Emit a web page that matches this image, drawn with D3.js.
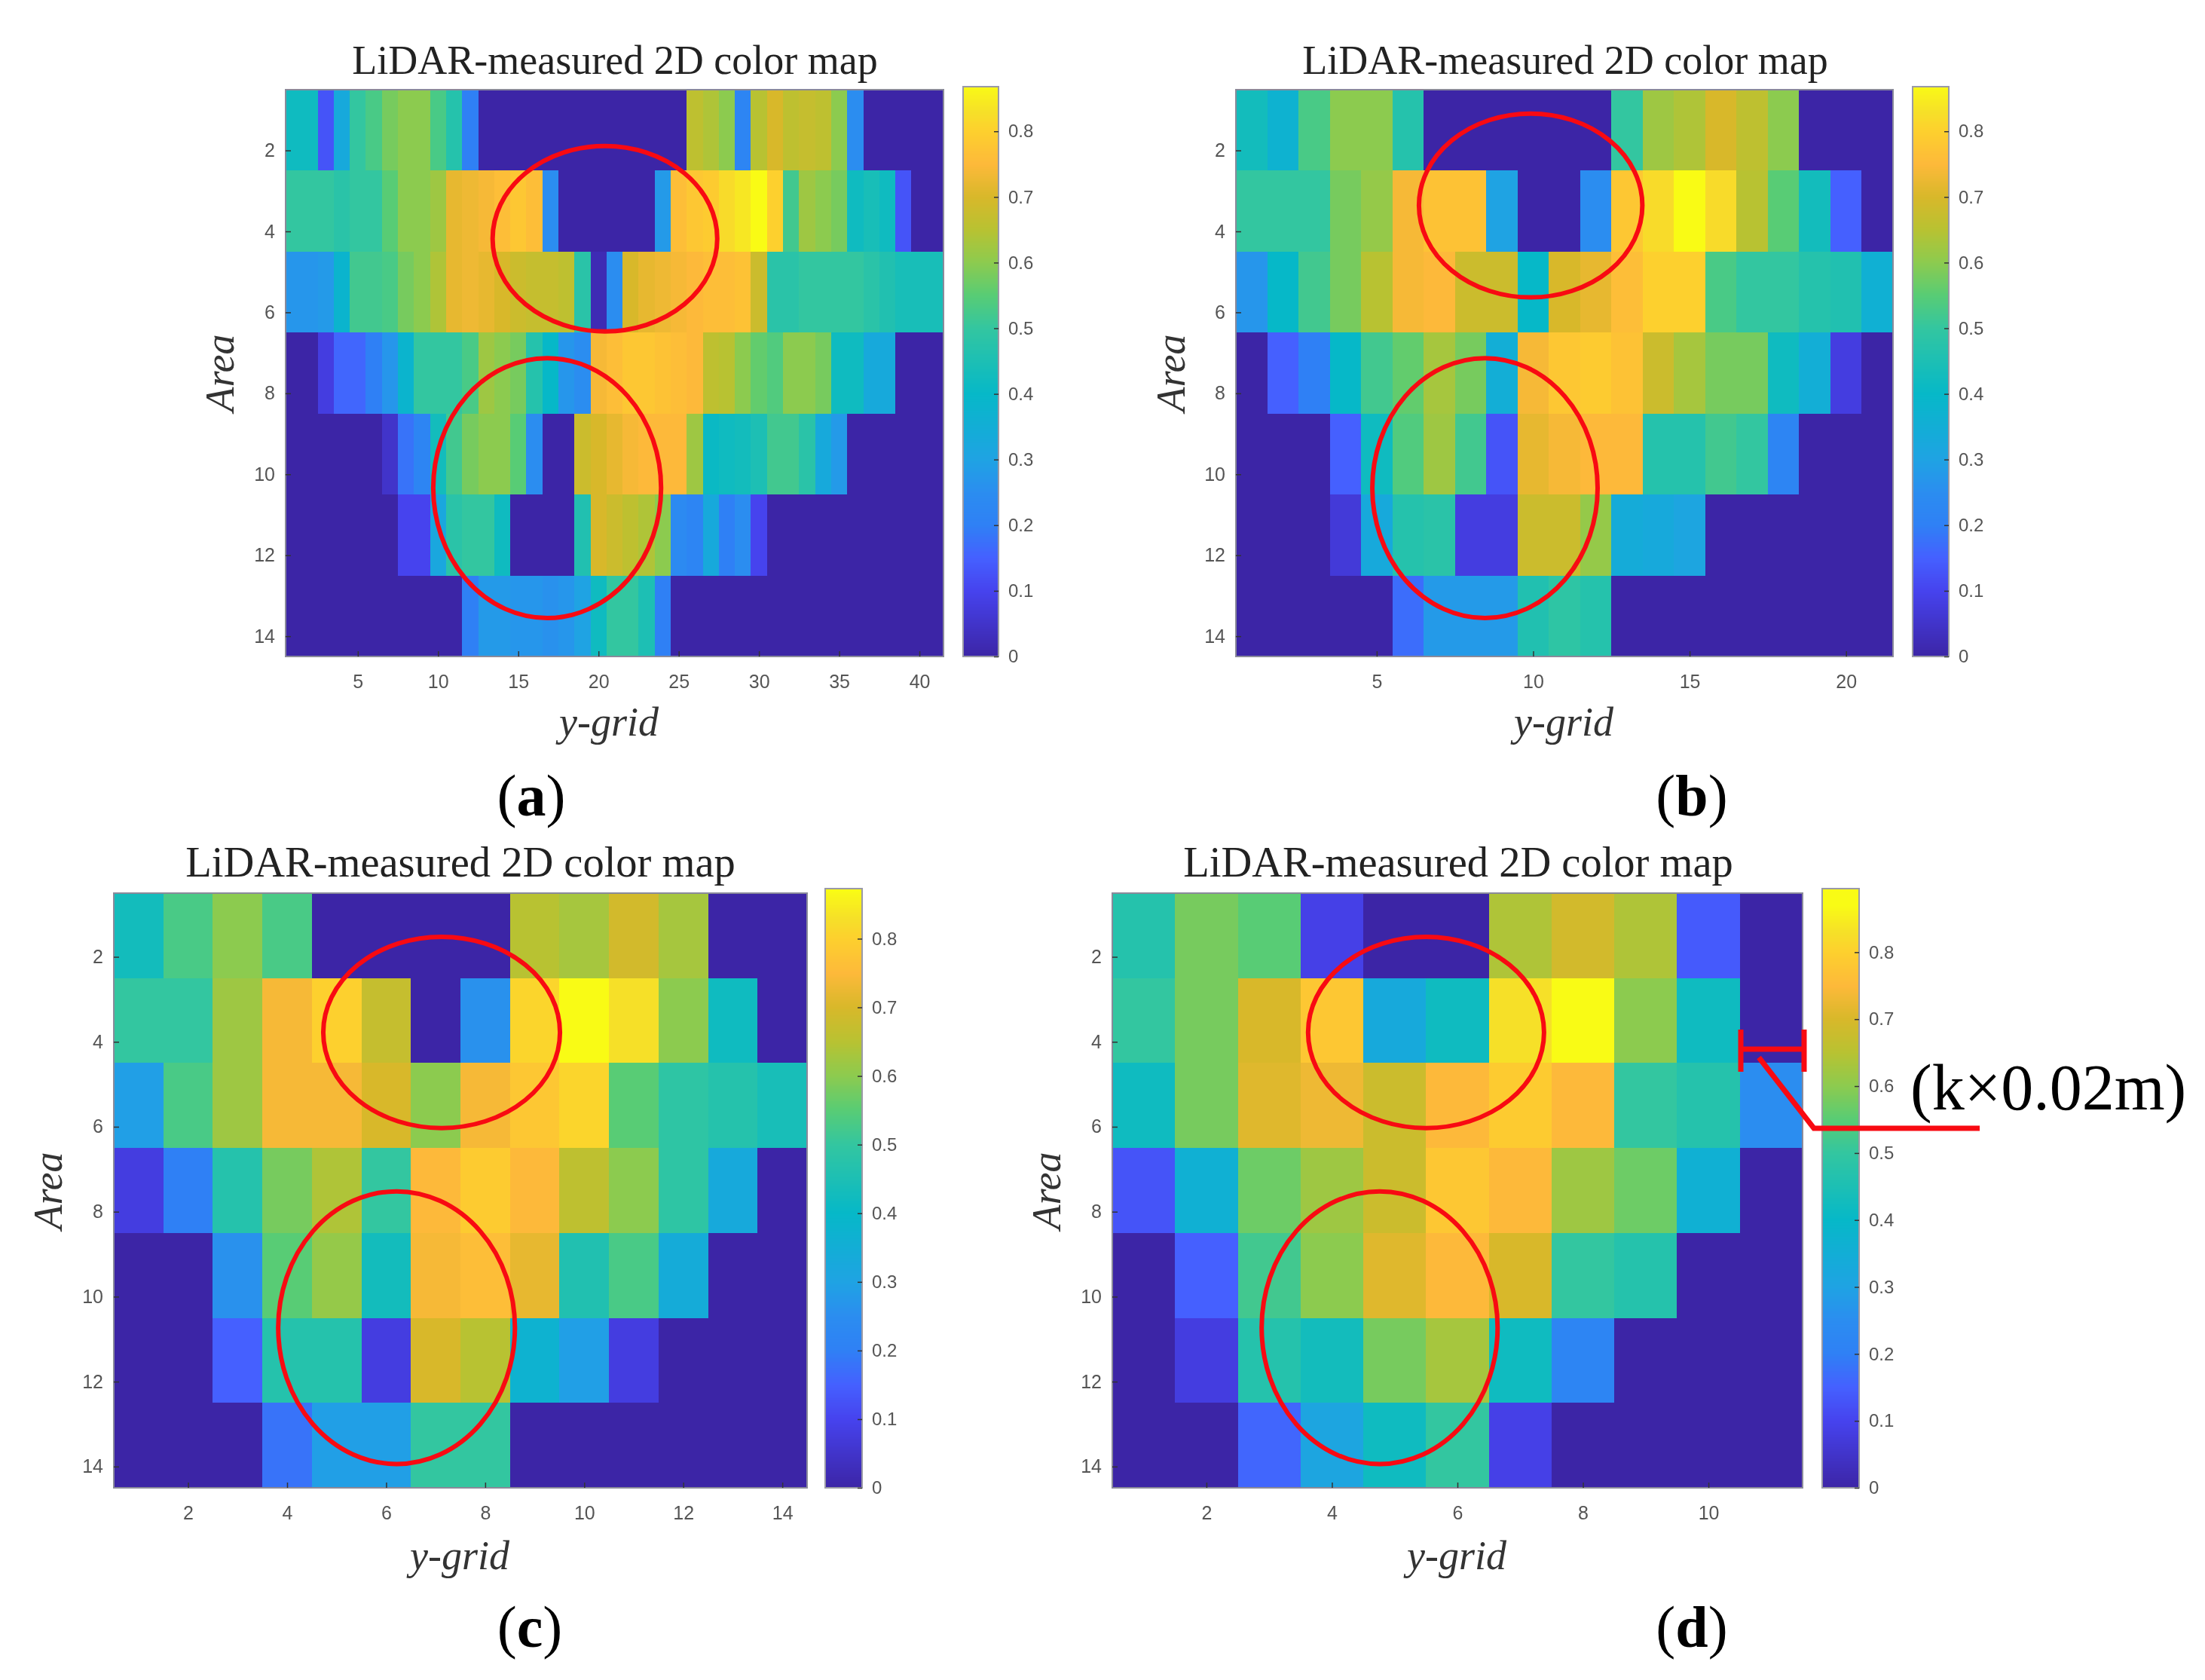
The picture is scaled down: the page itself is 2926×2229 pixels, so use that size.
<!DOCTYPE html>
<html>
<head>
<meta charset="utf-8">
<script src="https://cdn.jsdelivr.net/npm/d3@7"></script>
<style>
  body { margin: 0; background: #fff; }
  svg { display: block; filter: blur(0.7px); }
  .tick text { font-family: "Liberation Sans", sans-serif; fill: #555; }
  .tick line { stroke: #333; stroke-width: 1.5; }
  rect { shape-rendering: crispEdges; }
</style>
</head>
<body>
<svg id="fig" width="2926" height="2229"></svg>
<script>

// values, one row per 2-area band
var mapA = [
  [.42,.42,.13,.33,.5,.53,.58,.6,.6,.53,.47,.2,0,0,0,0,0,0,0,0,0,0,0,0,0,.66,.64,.6,.22,.65,.7,.66,.67,.66,.6,.25,0,0,0,0,0],
  [.5,.5,.5,.48,.5,.5,.55,.6,.6,.62,.72,.73,.74,.76,.78,.76,.25,0,0,0,0,0,0,.28,.76,.78,.79,.82,.84,.87,.8,.52,.62,.6,.58,.42,.44,.42,.13,0,0],
  [.27,.27,.28,.38,.52,.52,.53,.58,.6,.64,.72,.73,.72,.7,.68,.67,.67,.66,.48,.02,.25,.7,.72,.73,.74,.75,.76,.76,.77,.68,.48,.48,.5,.5,.5,.5,.48,.46,.44,.44,.44],
  [0,0,.08,.16,.16,.2,.27,.38,.5,.5,.5,.53,.62,.6,.58,.47,.4,.27,.25,.74,.76,.78,.78,.77,.76,.75,.66,.65,.6,.56,.54,.6,.6,.58,.42,.42,.33,.33,0,0,0],
  [0,0,0,0,0,0,.05,.18,.22,.43,.52,.58,.6,.6,.55,.25,0,0,.68,.7,.72,.74,.75,.75,.75,.62,.41,.42,.43,.45,.52,.52,.48,.33,.28,0,0,0,0,0,0],
  [0,0,0,0,0,0,0,.1,.1,.32,.48,.5,.5,.42,0,0,0,0,.46,.7,.68,.66,.64,.6,.24,.22,.33,.2,.25,.1,0,0,0,0,0,0,0,0,0,0,0],
  [0,0,0,0,0,0,0,0,0,0,0,.2,.28,.28,.27,.27,.26,.27,.3,.42,.5,.5,.45,.2,0,0,0,0,0,0,0,0,0,0,0,0,0,0,0,0,0]
];
var mapB = [
  [.43,.37,.53,.6,.6,.47,0,0,0,0,0,0,.5,.62,.64,.7,.66,.6,0,0,0],
  [.5,.5,.5,.58,.61,.74,.77,.77,.3,0,0,.25,.78,.82,.87,.82,.65,.55,.43,.15,0],
  [.27,.4,.52,.58,.65,.74,.75,.68,.68,.4,.7,.72,.76,.8,.8,.53,.5,.5,.47,.46,.36],
  [0,.15,.2,.4,.52,.56,.63,.58,.35,.74,.78,.79,.77,.68,.63,.58,.58,.42,.35,.08,0],
  [0,0,0,.15,.42,.54,.62,.52,.13,.72,.74,.75,.75,.47,.47,.52,.5,.22,0,0,0],
  [0,0,0,.07,.33,.47,.48,.08,.08,.68,.68,.61,.34,.33,.31,0,0,0,0,0,0],
  [0,0,0,0,0,.17,.28,.28,.28,.46,.49,.47,0,0,0,0,0,0,0,0,0]
];
var mapC = [
  [.43,.53,.6,.53,0,0,0,0,.65,.63,.69,.63,0,0],
  [.5,.5,.62,.74,.8,.67,0,.26,.81,.87,.83,.6,.42,0],
  [.29,.53,.62,.74,.74,.7,.6,.74,.78,.81,.55,.49,.47,.44],
  [.08,.2,.47,.58,.64,.5,.75,.79,.75,.66,.6,.49,.33,0],
  [0,0,.26,.55,.61,.43,.74,.76,.72,.46,.53,.34,0,0],
  [0,0,.15,.47,.47,.08,.7,.65,.37,.29,.08,0,0,0],
  [0,0,0,.18,.29,.29,.5,.5,0,0,0,0,0,0]
];
var mapD = [
  [.47,.58,.55,.09,0,0,.64,.69,.64,.14,0],
  [.5,.58,.7,.78,.33,.42,.83,.88,.6,.42,0],
  [.42,.58,.71,.73,.68,.75,.79,.75,.5,.47,.25],
  [.13,.36,.57,.62,.68,.78,.75,.62,.57,.36,0],
  [0,.15,.52,.6,.71,.75,.7,.5,.47,0,0],
  [0,.08,.47,.43,.58,.63,.42,.22,0,0,0],
  [0,0,.16,.31,.42,.5,.09,0,0,0,0]
];
var areaBands = [[.5,2.5],[2.5,4.5],[4.5,6.5],[6.5,8.5],[8.5,10.5],[10.5,12.5],[12.5,14.5]];
var areaTicks = [2,4,6,8,10,12,14];
var barTicks = [0,.1,.2,.3,.4,.5,.6,.7,.8];

var colorStops = [0,.1,.15,.2,.25,.3,.4,.5,.55,.6,.65,.7,.75,.8,.83,.87];
var colorHex = ["#3c25a6","#4643ee","#4560ff","#2f80f5","#2b8df0","#1fa3e3","#06b8c8","#33c6a0","#58cc75","#8ccb4f","#b8c232","#d8b82a","#fdb93a","#fdd02e","#f6e028","#f9fb15"];
var color = d3.scaleLinear().domain(colorStops).range(colorHex).clamp(true);

var svg = d3.select("#fig");
var red = "#f80a12";

var drawPanel = function(p) {
  var x = d3.scaleLinear().domain([.5, p.data[0].length + .5]).range([p.left, p.right]);
  var y = d3.scaleLinear().domain([.5, 14.5]).range([p.top, p.bottom]);
  var g = svg.append("g");

  p.data.forEach(function(row, r) {
    g.append("g").selectAll("rect")
      .data(row)
      .enter().append("rect")
      .attr("x", function(d, i) { return x(i + .5); })
      .attr("width", function(d, i) { return x(i + 1.5) - x(i + .5) + .5; })
      .attr("y", y(areaBands[r][0]))
      .attr("height", y(areaBands[r][1]) - y(areaBands[r][0]) + .5)
      .attr("fill", function(d) { return color(d); });
  });

  g.append("rect")
    .attr("x", p.left).attr("y", p.top)
    .attr("width", p.right - p.left).attr("height", p.bottom - p.top)
    .attr("fill", "none").attr("stroke", "#8a8a9a").attr("stroke-width", 2);

  g.append("g")
    .attr("transform", "translate(0," + p.bottom + ")")
    .call(d3.axisBottom(x).tickValues(p.xTicks).tickFormat(d3.format("d")).tickSizeInner(-7).tickSizeOuter(0).tickPadding(24))
    .call(function(a) { a.select(".domain").remove(); a.selectAll("text").style("font-size", "25px"); });

  g.append("g")
    .attr("transform", "translate(" + p.left + ",0)")
    .call(d3.axisLeft(y).tickValues(areaTicks).tickFormat(d3.format("d")).tickSizeInner(-7).tickSizeOuter(0).tickPadding(14))
    .call(function(a) { a.select(".domain").remove(); a.selectAll("text").style("font-size", "25px"); });

  // colorbar
  var cb = d3.scaleLinear().domain([0, p.barMax]).range([p.bottom, p.barTop]);
  var steps = d3.range(0, p.barMax, .002);
  g.append("g").selectAll("rect")
    .data(steps)
    .enter().append("rect")
    .attr("x", p.barLeft)
    .attr("width", p.barRight - p.barLeft)
    .attr("y", function(d) { return cb(d + .002); })
    .attr("height", function() { return Math.abs(cb(0) - cb(.002)) + 1; })
    .attr("fill", function(d) { return color(d); });
  g.append("rect")
    .attr("x", p.barLeft).attr("y", p.barTop)
    .attr("width", p.barRight - p.barLeft).attr("height", p.bottom - p.barTop)
    .attr("fill", "none").attr("stroke", "#9a9aa6").attr("stroke-width", 2);
  g.append("g")
    .attr("transform", "translate(" + p.barRight + ",0)")
    .call(d3.axisRight(cb).tickValues(barTicks).tickFormat(function(d) { return String(d); }).tickSizeInner(-6).tickSizeOuter(0).tickPadding(13))
    .call(function(a) { a.select(".domain").remove(); a.selectAll("text").style("font-size", "24px"); });

  // titles and labels
  g.append("text")
    .attr("x", p.titleX).attr("y", p.titleY)
    .attr("text-anchor", "middle")
    .style("font-family", "'Liberation Serif', serif").style("font-size", p.titleSize + "px").style("fill", "#222")
    .text("LiDAR-measured 2D color map");
  g.append("text")
    .attr("x", p.xLabelX).attr("y", p.xLabelY)
    .attr("text-anchor", "middle")
    .style("font-family", "'Liberation Serif', serif").style("font-style", "italic").style("font-size", "54px").style("fill", "#333")
    .text("y-grid");
  g.append("text")
    .attr("transform", "translate(" + p.yLabelX + "," + p.yLabelY + ") rotate(-90)")
    .attr("text-anchor", "middle")
    .style("font-family", "'Liberation Serif', serif").style("font-style", "italic").style("font-size", "54px").style("fill", "#333")
    .text("Area");

  var tag = g.append("text")
    .attr("x", p.tagX).attr("y", p.tagY)
    .attr("text-anchor", "middle")
    .style("font-family", "'Liberation Serif', serif").style("font-size", "78px").style("fill", "#000");
  tag.append("tspan").text("(");
  tag.append("tspan").style("font-weight", "bold").text(p.tag);
  tag.append("tspan").text(")");

  // red circles, given in axis units
  g.append("g").selectAll("ellipse")
    .data(p.rings)
    .enter().append("ellipse")
    .attr("cx", function(d) { return x(d[0]); })
    .attr("cy", function(d) { return y(d[1]); })
    .attr("rx", function(d) { return x(d[2]) - x(0); })
    .attr("ry", function(d) { return y(d[3]) - y(0); })
    .attr("fill", "none").attr("stroke", red).attr("stroke-width", 6);

  return {x: x, y: y};
};

drawPanel({
  data: mapA, tag: "a", left: 379, right: 1252, top: 119, bottom: 871,
  barLeft: 1278, barRight: 1325, barTop: 115, barMax: .868,
  xTicks: [5,10,15,20,25,30,35,40],
  titleX: 816, titleY: 98, titleSize: 54, xLabelX: 808, xLabelY: 976, yLabelX: 310, yLabelY: 495, tagX: 705, tagY: 1082,
  rings: [[20.4,4.18,7,2.29],[16.8,10.34,7.1,3.21]]
});
drawPanel({
  data: mapB, tag: "b", left: 1640, right: 2512, top: 119, bottom: 871,
  barLeft: 2538, barRight: 2586, barTop: 115, barMax: .868,
  xTicks: [5,10,15,20],
  titleX: 2077, titleY: 98, titleSize: 54, xLabelX: 2075, xLabelY: 976, yLabelX: 1572, yLabelY: 495, tagX: 2245, tagY: 1082,
  rings: [[9.92,3.36,3.57,2.27],[8.46,10.34,3.6,3.21]]
});
drawPanel({
  data: mapC, tag: "c", left: 151, right: 1071, top: 1185, bottom: 1974,
  barLeft: 1095, barRight: 1144, barTop: 1179, barMax: .873,
  xTicks: [2,4,6,8,10,12,14],
  titleX: 611, titleY: 1163, titleSize: 56.5, xLabelX: 610, xLabelY: 2082, yLabelX: 82, yLabelY: 1580, tagX: 703, tagY: 2185,
  rings: [[7.12,3.78,2.39,2.25],[6.21,10.73,2.39,3.21]]
});
drawPanel({
  data: mapD, tag: "d", left: 1476, right: 2392, top: 1185, bottom: 1974,
  barLeft: 2418, barRight: 2467, barTop: 1179, barMax: .895,
  xTicks: [2,4,6,8,10],
  titleX: 1935, titleY: 1163, titleSize: 56.5, xLabelX: 1933, xLabelY: 2082, yLabelX: 1407, yLabelY: 1580, tagX: 2245, tagY: 2185,
  rings: [[5.5,3.78,1.88,2.25],[4.76,10.73,1.88,3.21]]
});

// bin width note on panel d
var note = svg.append("g").attr("stroke", red).attr("stroke-width", 7).attr("fill", "none");
note.append("path").attr("d", "M2310,1366V1422M2394,1366V1422M2310,1392H2394");
note.append("path").attr("d", "M2334,1403L2407,1497H2627");
svg.append("text")
  .attr("x", 2535).attr("y", 1472)
  .style("font-family", "'Liberation Serif', serif").style("font-size", "86px").style("fill", "#000")
  .text("(k×0.02m)");

</script>
</body>
</html>
